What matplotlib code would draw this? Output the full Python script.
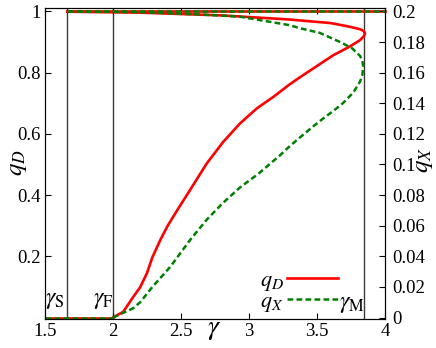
import numpy as np
import matplotlib.pyplot as plt
from matplotlib.lines import Line2D

plt.rcParams['font.family'] = 'Liberation Serif'
plt.rcParams['mathtext.fontset'] = 'stix'
plt.rcParams['font.size'] = 13

# branch of q_D (left axis): from gamma_F up to the nose, then back along the upper branch
gam_D = [2.0, 2.076, 2.147, 2.20, 2.25, 2.29, 2.35, 2.40, 2.48, 2.566, 2.689, 2.811, 2.934,
         3.057, 3.18, 3.30, 3.375, 3.62, 3.74, 3.816, 3.843, 3.853,
         3.843, 3.816, 3.74, 3.60, 3.375, 3.30, 2.80, 2.20, 1.665]
q_D = [0.0, 0.019, 0.066, 0.099, 0.145, 0.197, 0.255, 0.298, 0.356, 0.416, 0.503, 0.574, 0.634,
       0.683, 0.721, 0.762, 0.785, 0.857, 0.885, 0.906, 0.918, 0.928,
       0.936, 0.942, 0.950, 0.962, 0.9705, 0.9735, 0.987, 0.996, 0.999]

# branch of q_X (right axis)
gam_X = [2.0, 2.147, 2.20, 2.29, 2.42, 2.57, 2.69, 2.81, 2.934, 3.07, 3.228, 3.30, 3.353, 3.46,
         3.545, 3.62, 3.69, 3.767, 3.816, 3.833, 3.84,
         3.833, 3.816, 3.757, 3.67, 3.52, 3.375, 3.30, 2.93, 2.64, 2.20, 1.665]
q_X = [0.0, 0.006, 0.010, 0.020, 0.033, 0.051, 0.064, 0.075, 0.085, 0.094, 0.106, 0.112, 0.116,
       0.124, 0.130, 0.135, 0.140, 0.147, 0.154, 0.158, 0.164,
       0.168, 0.171, 0.176, 0.180, 0.186, 0.189, 0.191, 0.1966, 0.198, 0.1995, 0.2]

# trivial branches
low_gam = [1.5, 2.0]
high_gam = [1.665, 4.0]

gamma_S, gamma_F, gamma_M = 1.665, 2.0, 3.846

fig = plt.figure(figsize=(4.36, 3.48), dpi=100)
ax = fig.add_axes([0.103, 0.083, 0.780, 0.893])
ax2 = ax.twinx()

red = '#ff0000'
green = '#008000'
dash = (2.3, 1.3)

for g in [gamma_S, gamma_F, gamma_M]:
    ax.axvline(g, color='#3a3a3a', lw=1.0, zorder=1)

ax.plot(gam_D, q_D, color=red, lw=1.9, zorder=3)
ax.plot(low_gam, [0, 0], color=red, lw=1.9, zorder=3)
ax.plot(high_gam, [1, 1], color=red, lw=1.9, zorder=3, clip_on=False)

ax2.plot(gam_X, q_X, color=green, lw=1.8, dashes=dash)
ax2.plot(low_gam, [0, 0], color=green, lw=1.8, dashes=dash)
ax2.plot(high_gam, [0.2, 0.2], color=green, lw=1.8, dashes=dash, clip_on=False)

ax.set_xlim(1.5, 4)
ax.set_ylim(-0.005, 1.01)
ax2.set_ylim(-0.001, 0.202)

ax.set_xticks([1.5, 2, 2.5, 3, 3.5, 4])
ax.set_xticklabels(['1.5', '2', '2.5', '3', '3.5', '4'])
ax.set_yticks([0.2, 0.4, 0.6, 0.8, 1])
ax.set_yticklabels(['0.2', '0.4', '0.6', '0.8', '1'])
ax2.set_yticks(np.arange(0, 0.201, 0.02))
ax2.set_yticklabels(['0', '0.02', '0.04', '0.06', '0.08', '0.1', '0.12', '0.14',
                     '0.16', '0.18', '0.2'])

ax.tick_params(direction='in', top=True, length=4, width=0.8, labelsize=13.5, pad=3)
ax.tick_params(axis='y', right=False)
ax2.tick_params(direction='in', length=4, width=0.8, labelsize=13.5, pad=5)

fig.text(18 / 436, 1 - 163 / 348, '$q_D$', fontsize=18, rotation=90,
         ha='center', va='center')
fig.text(424 / 436, 1 - 160 / 348, '$q_X$', fontsize=18, rotation=90,
         ha='center', va='center')
fig.text(214 / 436, 1 - 329 / 348, r'$\gamma$', fontsize=20, ha='center', va='center')

ax.text(1.574, 0.057, r'$\gamma_{\rm S}$', fontsize=17, ha='center', va='center')
ax.text(1.926, 0.057, r'$\gamma_{\rm F}$', fontsize=17, ha='center', va='center')
ax.text(3.757, 0.042, r'$\gamma_{\rm M}$', fontsize=17, ha='center', va='center')

handles = [Line2D([], [], color=red, lw=1.9),
           Line2D([], [], color=green, lw=1.8, dashes=dash)]
ax2.legend(handles, ['$q_D$', '$q_X$'], frameon=False, markerfirst=False,
           loc='lower right', bbox_to_anchor=(338 / 436, 1 - 314 / 348),
           bbox_transform=fig.transFigure, borderpad=0, borderaxespad=0,
           handlelength=2.3, handletextpad=0.15, labelspacing=-0.05, fontsize=16)

fig.savefig('out.png', dpi=100)
